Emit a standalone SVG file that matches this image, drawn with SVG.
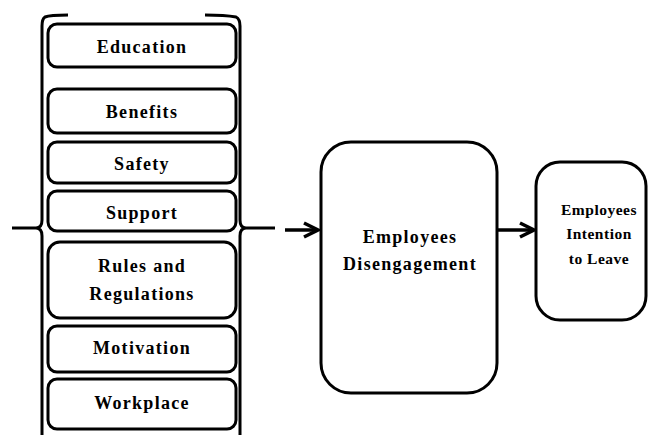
<svg xmlns="http://www.w3.org/2000/svg" width="648" height="435" viewBox="0 0 648 435">
<defs>
<style>
.box{fill:#fff;stroke:#000;stroke-width:3}
.br{fill:none;stroke:#000;stroke-width:3}
text{font-family:'Liberation Serif','Times New Roman',Tinos,'Noto Serif','DejaVu Serif',FreeSerif,serif;font-weight:bold;font-size:18px;letter-spacing:1.3px;text-anchor:middle;fill:#000}
text.s{font-size:15.5px;letter-spacing:0.5px}
</style>
<marker id="ah" viewBox="0 0 10 10" refX="9" refY="5" markerWidth="5" markerHeight="5" orient="auto" markerUnits="strokeWidth">
<path d="M1,1 L9,5 L1,9" fill="none" stroke="#000" stroke-width="2"/>
</marker>
</defs>
<rect width="648" height="435" fill="#fff"/>
<g id="bracket">
<path class="br" d="M68,15 Q50,15 45,17 Q42,19 42,26 L42,220 Q42,228 36,228 L12,228 M36,228 Q42,228 42,236 L42,435"/>
<path class="br" d="M205,15 Q225,15 236,17 Q240,19 240,26 L240,220 Q240,228 246,228 L275,228 M246,228 Q240,228 240,236 L240,435"/>
</g>
<g id="education"><rect class="box" x="48" y="24" width="188" height="43" rx="9"/><text x="142" y="53">Education</text></g>
<g id="benefits"><rect class="box" x="48" y="89" width="188" height="44" rx="9"/><text x="142" y="118">Benefits</text></g>
<g id="safety"><rect class="box" x="48" y="142" width="188" height="41" rx="9"/><text x="142" y="170">Safety</text></g>
<g id="support"><rect class="box" x="48" y="191" width="188" height="40" rx="9"/><text x="142" y="219">Support</text></g>
<g id="rules"><rect class="box" x="48" y="242" width="188" height="76" rx="12"/><text x="142" y="272">Rules and</text><text x="142" y="300">Regulations</text></g>
<g id="motivation"><rect class="box" x="48" y="326" width="188" height="46" rx="9"/><text x="142" y="354">Motivation</text></g>
<g id="workplace"><rect class="box" x="48" y="379" width="188" height="50" rx="9"/><text x="142" y="409">Workplace</text></g>
<g id="disengagement"><rect class="box" x="321" y="142" width="176" height="251" rx="30"/><text x="410" y="243">Employees</text><text x="410" y="270">Disengagement</text></g>
<g id="intention"><rect class="box" x="536" y="162" width="110" height="158" rx="24"/><text class="s" x="599" y="215">Employees</text><text class="s" x="599" y="239">Intention</text><text class="s" x="599" y="264">to Leave</text></g>
<g id="connectors">
<line x1="285" y1="230" x2="318" y2="230" stroke="#000" stroke-width="3.5" marker-end="url(#ah)"/>
<line x1="498" y1="230" x2="534" y2="230" stroke="#000" stroke-width="3.5" marker-end="url(#ah)"/>
</g>
</svg>
